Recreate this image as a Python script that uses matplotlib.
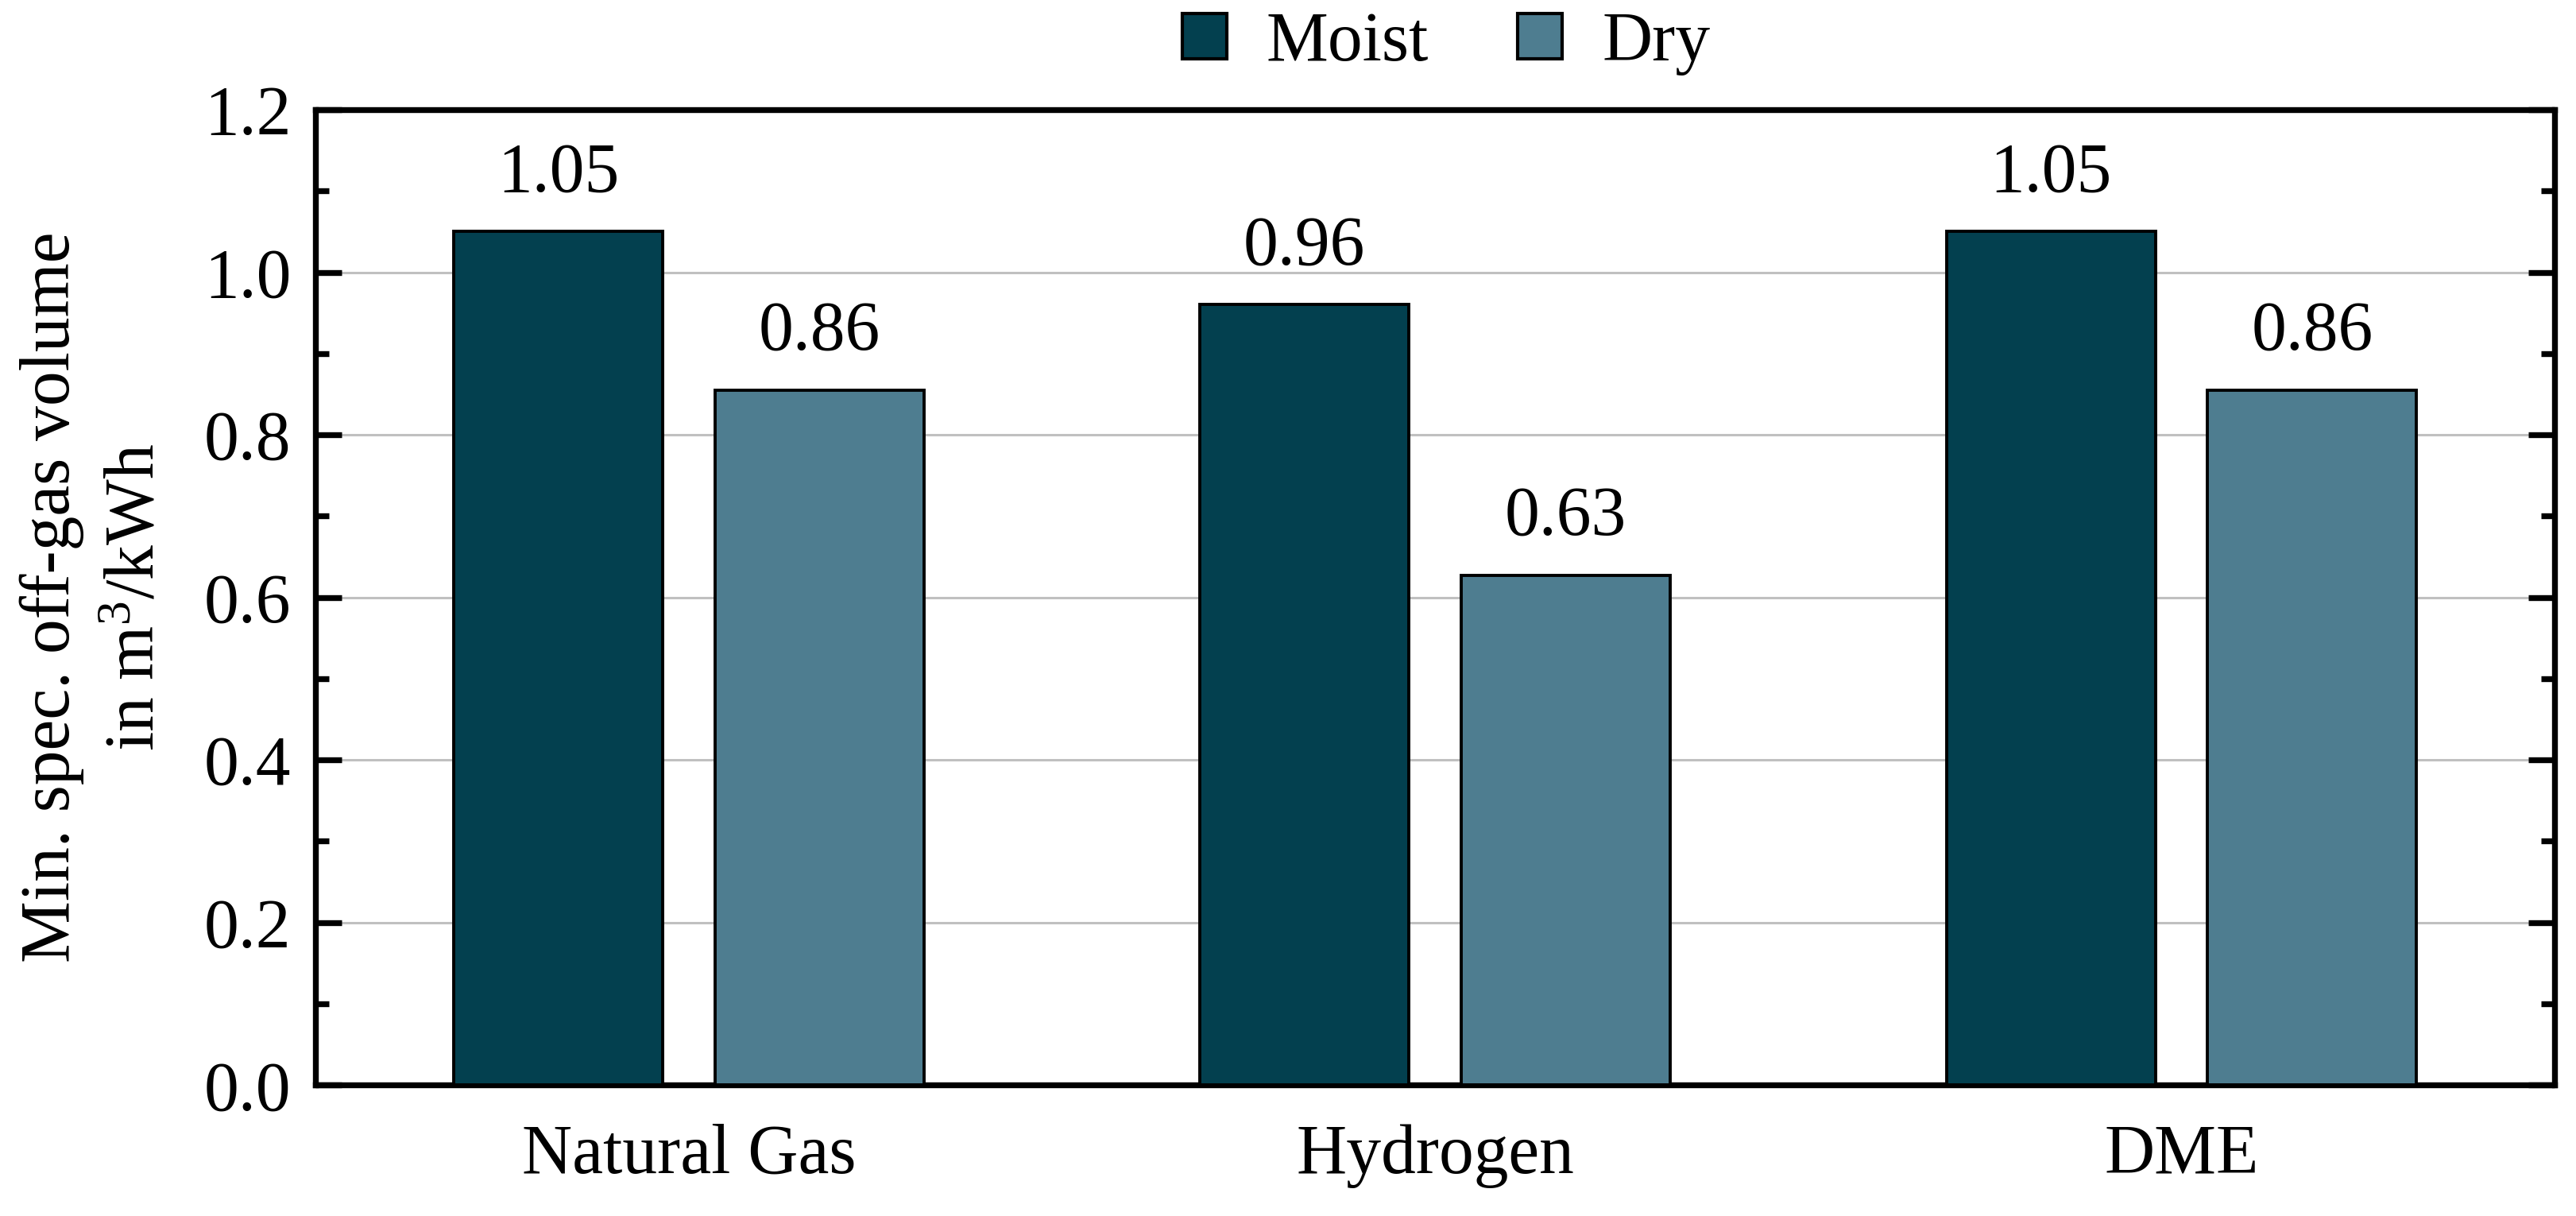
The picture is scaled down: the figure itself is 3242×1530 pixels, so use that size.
import matplotlib
matplotlib.use("Agg")
import matplotlib.pyplot as plt
import numpy as np
from matplotlib.ticker import MultipleLocator

categories = ["Natural Gas", "Hydrogen", "DME"]
series_names = ["Moist", "Dry"]
moist = [1.05, 0.96, 1.05]
dry = [0.855, 0.627, 0.855]
moist_labels = ["1.05", "0.96", "1.05"]
dry_labels = ["0.86", "0.63", "0.86"]
yticks = [0.0, 0.2, 0.4, 0.6, 0.8, 1.0, 1.2]

plt.rcParams['font.family'] = ['Liberation Serif', 'DejaVu Serif']
plt.rcParams['mathtext.fontset'] = 'custom'
plt.rcParams['mathtext.rm'] = 'Liberation Serif'
plt.rcParams['mathtext.it'] = 'Liberation Serif:italic'
plt.rcParams['mathtext.bf'] = 'Liberation Serif:bold'
FS = 63

fig = plt.figure(figsize=(32.42, 15.30), dpi=100)
ax = fig.add_axes([0.1225, 0.1078, 0.9917 - 0.1225, 0.9098 - 0.1078])

x = np.arange(len(categories))
w = 0.28
off = 0.175
c_moist = "#03404F"
c_dry = "#4E7D90"
b1 = ax.bar(x - off, moist, w, color=c_moist, edgecolor="black", linewidth=2.8, zorder=3, label=series_names[0])
b2 = ax.bar(x + off, dry, w, color=c_dry, edgecolor="black", linewidth=2.8, zorder=3, label=series_names[1])

for rect, lab in zip(b1, moist_labels):
    ax.annotate(lab, (rect.get_x() + rect.get_width() / 2, rect.get_height()),
                xytext=(0, 23), textcoords="offset points", ha="center", va="bottom", fontsize=FS)
for rect, lab in zip(b2, dry_labels):
    ax.annotate(lab, (rect.get_x() + rect.get_width() / 2, rect.get_height()),
                xytext=(0, 23), textcoords="offset points", ha="center", va="bottom", fontsize=FS)

ax.set_xlim(-0.5, 2.5)
ax.set_ylim(0, 1.2)
ax.set_yticks(yticks)
ax.set_yticklabels([f"{t:.1f}" for t in yticks])
ax.yaxis.set_minor_locator(MultipleLocator(0.1))
ax.set_xticks(x)
ax.set_xticklabels(categories)

ax.tick_params(axis="y", which="major", direction="in", length=24, width=5.3, left=True, right=True,
               labelsize=FS, pad=22)
ax.tick_params(axis="y", which="minor", direction="in", length=12, width=5.3, left=True, right=True)
ax.tick_params(axis="x", which="both", length=0, labelsize=FS, pad=35)

for s in ax.spines.values():
    s.set_linewidth(5.3)

ax.grid(axis="y", which="major", color="#c0c0c0", linewidth=2.2, zorder=0)
ax.set_axisbelow(True)

fig.text(118 / 3242, 0.509, "Min. spec. off-gas volume\nin m$^3$/kWh", rotation=90,
         ha="center", va="center", fontsize=FS, linespacing=1.4, multialignment="center")

leg = ax.legend(loc="center", bbox_to_anchor=(0.505, 1.068), ncol=2, frameon=False, fontsize=FS,
                handlelength=0.64, handleheight=0.63, handletextpad=0.57, columnspacing=1.28)
for h in leg.legend_handles:
    h.set_linewidth(3.0)

fig.savefig("out.png", dpi=100)
